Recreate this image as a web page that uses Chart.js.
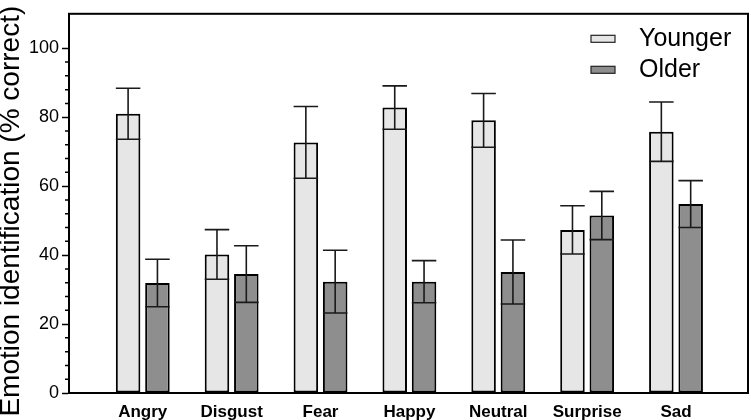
<!DOCTYPE html>
<html>
<head>
<meta charset="utf-8">
<script src="https://cdn.jsdelivr.net/npm/chart.js@4/dist/chart.umd.min.js"></script>
<style>
  html, body { margin: 0; padding: 0; background: #fff; }
  canvas { display: block; }
</style>
</head>
<body>
<canvas id="c" width="751" height="420"></canvas>
<script>
// data
const emotions = ['Angry', 'Disgust', 'Fear', 'Happy', 'Neutral', 'Surprise', 'Sad']
const youngerMean = [81.0, 40.2, 72.7, 82.8, 79.1, 47.3, 75.8]
const youngerErr  = [7.4, 7.2, 10.4, 6.3, 7.8, 7.0, 8.6]
const olderMean   = [31.9, 34.5, 32.3, 32.3, 35.1, 51.5, 54.8]
const olderErr    = [6.9, 8.2, 9.1, 6.1, 9.3, 7.0, 6.8]
const yTicks = [0, 20, 40, 60, 80, 100]
const yMinorTicks = [4, 8, 12, 16, 24, 28, 32, 36, 44, 48, 52, 56, 64, 68, 72, 76, 84, 88, 92, 96]

const FONT = 'Liberation Sans, Arial, Helvetica, sans-serif'

// error bars: line from mean-err to mean+err, cap at both ends as wide as the bar
const errorBars = {
  id: 'errorBars',
  afterDatasetsDraw(chart){
    const ctx = chart.ctx, y = chart.scales.y
    chart.data.datasets.forEach((ds, di) => {
      const meta = chart.getDatasetMeta(di)
      meta.data.forEach((bar, i) => {
        const m = ds.data[i].y, e = ds.err[i]
        const top = y.getPixelForValue(m + e), bot = y.getPixelForValue(m - e)
        const half = bar.width / 2
        ctx.save()
        ctx.strokeStyle = '#1a1a1a'
        ctx.lineWidth = 1.6
        ctx.beginPath()
        ctx.moveTo(bar.x, top); ctx.lineTo(bar.x, bot)
        ctx.moveTo(bar.x - half, top); ctx.lineTo(bar.x + half, top)
        ctx.moveTo(bar.x - half, bot); ctx.lineTo(bar.x + half, bot)
        ctx.stroke()
        ctx.restore()
      })
    })
  }
}

// box round the plot + short minor ticks on y
const frame = {
  id: 'frame',
  afterDraw(chart){
    const ctx = chart.ctx, a = chart.chartArea, y = chart.scales.y
    ctx.save()
    ctx.strokeStyle = '#000'
    ctx.lineWidth = 2
    ctx.strokeRect(a.left, a.top, a.right - a.left, a.bottom - a.top)
    ctx.lineWidth = 1.5
    ctx.beginPath()
    yMinorTicks.forEach(v => {
      const py = y.getPixelForValue(v)
      ctx.moveTo(a.left - 4, py); ctx.lineTo(a.left, py)
    })
    ctx.stroke()
    ctx.restore()
  }
}

// legend drawn inside the plot, top right, stacked
const innerLegend = {
  id: 'innerLegend',
  afterDraw(chart){
    const ctx = chart.ctx, a = chart.chartArea
    ctx.save()
    chart.data.datasets.forEach((ds, i) => {
      const cy = a.top + 25 + i * 31
      const bx = a.right - 157
      ctx.fillStyle = ds.backgroundColor
      ctx.fillRect(bx, cy - 3.5, 24, 7)
      ctx.strokeStyle = '#222'
      ctx.lineWidth = 1.2
      ctx.strokeRect(bx, cy - 3.5, 24, 7)
      ctx.fillStyle = '#000'
      ctx.font = '25px ' + FONT
      ctx.textBaseline = 'middle'
      ctx.fillText(ds.label, bx + 48, cy)
    })
    ctx.restore()
  }
}

const toPoints = arr => arr.map((v, i) => ({ x: i, y: v }))

new Chart(document.getElementById('c'), {
  type: 'bar',
  data: {
    datasets: [
      { label: 'Younger', data: toPoints(youngerMean), err: youngerErr,
        backgroundColor: '#e6e6e6', borderColor: '#000', borderWidth: 2, borderSkipped: false },
      { label: 'Older', data: toPoints(olderMean), err: olderErr,
        backgroundColor: '#8e8e8e', borderColor: '#000', borderWidth: 2, borderSkipped: false }
    ]
  },
  options: {
    responsive: false,
    devicePixelRatio: 1,
    animation: false,
    categoryPercentage: 0.66,
    barPercentage: 0.836,
    layout: { padding: { top: 7, right: 3, left: 0, bottom: 0 } },
    plugins: { legend: { display: false }, tooltip: { enabled: false } },
    scales: {
      x: {
        type: 'linear',
        offset: false,
        min: -0.83, max: 6.81,
        grid: { display: false, drawTicks: false, offset: false },
        border: { color: '#000', width: 2 },
        afterBuildTicks: s => { s.ticks = emotions.map((e, i) => ({ value: i })) },
        afterFit: s => { s.height = 27 },
        ticks: {
          padding: 9,
          color: '#000',
          font: { family: FONT, size: 17, weight: 'bold' },
          callback: v => emotions[v]
        }
      },
      y: {
        min: 0, max: 110,
        afterBuildTicks: s => { s.ticks = yTicks.map(v => ({ value: v })) },
        afterFit: s => { s.width = 69 },
        grid: { drawOnChartArea: false, tickLength: 7, tickWidth: 1.5, tickColor: '#000' },
        border: { color: '#000', width: 2 },
        ticks: { padding: 3, color: '#000', font: { family: FONT, size: 18 } },
        title: {
          display: true,
          // two trailing spaces nudge the visible text down a little, as in the figure
          text: 'Emotion identification (% correct)  ',
          color: '#000',
          font: { family: FONT, size: 28, lineHeight: 0.8 },
          padding: 0
        }
      }
    }
  },
  plugins: [errorBars, frame, innerLegend]
})
</script>
</body>
</html>
